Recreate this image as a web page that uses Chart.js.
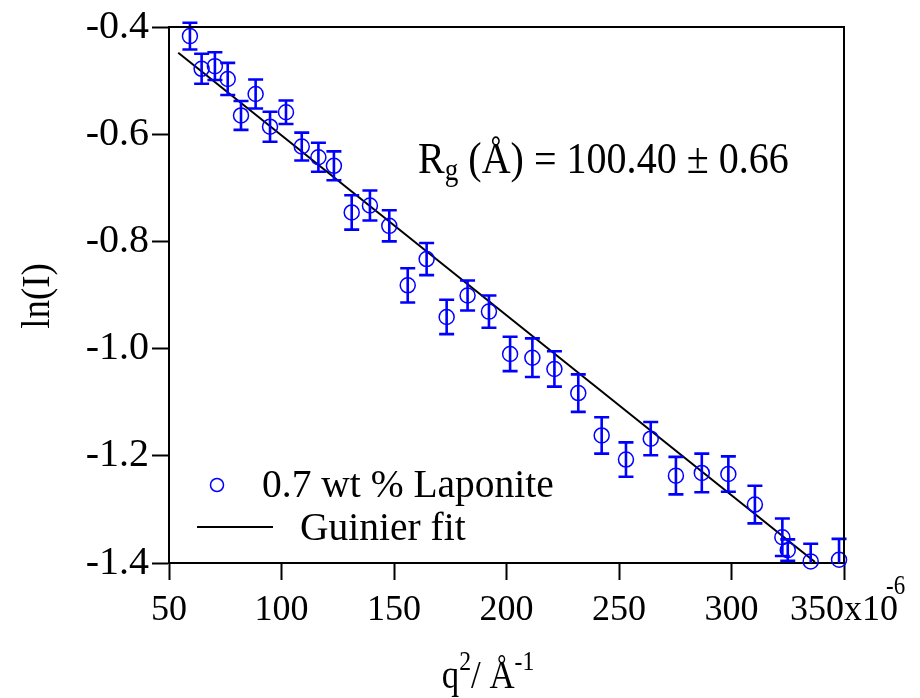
<!DOCTYPE html>
<html>
<head>
<meta charset="utf-8">
<script src="https://cdn.jsdelivr.net/npm/chart.js@4.4.0/dist/chart.umd.min.js"></script>
<style>
  html, body { margin: 0; padding: 0; background: #fff; }
  #wrap { width: 920px; height: 698px; }
</style>
</head>
<body>
<div id="wrap"><canvas id="chart"></canvas></div>
<script>
// q^2 (x10^-6 A^-2) et ln(I)
const qSquared = [59.3, 64.5, 70.4, 76.1, 82.0, 88.5, 94.9, 102.0, 109.0, 116.4, 123.3, 131.2,
  139.3, 147.9, 156.1, 164.5, 173.4, 182.7, 192.2, 201.6, 211.5, 221.3, 231.9, 242.3,
  253.1, 264.1, 275.3, 286.8, 298.6, 310.4, 322.6, 325.0, 335.2, 347.8];
const lnI = [-0.417, -0.478, -0.473, -0.497, -0.565, -0.525, -0.586, -0.559, -0.623, -0.643, -0.659, -0.746,
  -0.733, -0.771, -0.882, -0.833, -0.941, -0.901, -0.931, -1.010, -1.017, -1.038, -1.083, -1.162,
  -1.207, -1.168, -1.237, -1.232, -1.234, -1.291, -1.352, -1.376, -1.397, -1.394];
const lnIErr = [0.025, 0.028, 0.026, 0.030, 0.027, 0.027, 0.028, 0.022, 0.026, 0.027, 0.027, 0.032,
  0.028, 0.029, 0.032, 0.030, 0.032, 0.028, 0.030, 0.032, 0.036, 0.033, 0.035, 0.034,
  0.032, 0.031, 0.035, 0.036, 0.033, 0.035, 0.035, 0.020, 0.033, 0.039];

// droite de Guinier (extrémités)
const fitQ = [54.1, 337.1];
const fitLn = [-0.448, -1.398];

const xTicks = [50, 100, 150, 200, 250, 300, 350];
const yTicks = [-0.4, -0.6, -0.8, -1.0, -1.2, -1.4];

const seriesLabel = '0.7 wt % Laponite';
const fitLabel = 'Guinier fit';

const FONT = '"Liberation Serif", "Times New Roman", serif';
const BLUE = '#0000ff';

Chart.defaults.font.family = FONT;
Chart.defaults.color = '#000';

// dessine un texte avec exposants / indices, sx = compression horizontale
function drawRich(ctx, parts, x, y, size, align, sx) {
  sx = sx || 1;
  let total = 0;
  parts.forEach(p => {
    ctx.font = (p.sup || p.sub ? size * 0.68 : size) + 'px ' + FONT;
    p.w = ctx.measureText(p.t).width;
    total += p.w;
  });
  ctx.save();
  ctx.translate(align === 'center' ? x - total * sx / 2 : x, y);
  ctx.scale(sx, 1);
  let cx = 0;
  parts.forEach(p => {
    ctx.font = (p.sup || p.sub ? size * 0.68 : size) + 'px ' + FONT;
    let dy = 0;
    if (p.sup) dy = -size * 0.45;
    if (p.sub) dy = size * 0.16;
    ctx.fillText(p.t, cx, dy);
    cx += p.w;
  });
  ctx.restore();
}

const errorBars = {
  id: 'errorBars',
  afterDatasetsDraw(chart) {
    const { ctx, scales: { x, y }, chartArea } = chart;
    ctx.save();
    ctx.beginPath();
    ctx.rect(chartArea.left - 10, chartArea.top - 10, chartArea.width + 20, chartArea.height + 10);
    ctx.clip();
    ctx.strokeStyle = BLUE;
    ctx.lineWidth = 2.6;
    qSquared.forEach((q, i) => {
      const px = x.getPixelForValue(q);
      const yTop = y.getPixelForValue(lnI[i] + lnIErr[i]);
      const yBot = y.getPixelForValue(lnI[i] - lnIErr[i]);
      ctx.beginPath();
      ctx.moveTo(px, yTop); ctx.lineTo(px, yBot);
      ctx.moveTo(px - 7.5, yTop); ctx.lineTo(px + 7.5, yTop);
      ctx.moveTo(px - 7.5, yBot); ctx.lineTo(px + 7.5, yBot);
      ctx.stroke();
    });
    ctx.restore();
  }
};

const decorations = {
  id: 'decorations',
  afterDraw(chart) {
    const { ctx, chartArea: a, scales: { x } } = chart;
    ctx.save();
    // cadre haut et droite
    ctx.strokeStyle = '#000';
    ctx.lineWidth = 2;
    ctx.beginPath();
    ctx.moveTo(a.left, a.top); ctx.lineTo(a.right, a.top); ctx.lineTo(a.right, a.bottom);
    ctx.stroke();

    ctx.fillStyle = '#000';
    ctx.textBaseline = 'alphabetic';
    ctx.textAlign = 'left';

    // exposant -6 du dernier label
    drawRich(ctx, [{ t: '-6' }], x.getPixelForValue(350) + 42, 594, 27, 'left', 0.85);

    // titre de l'axe x
    drawRich(ctx, [{ t: 'q' }, { t: '2', sup: true }, { t: '/ Å' }, { t: '-1', sup: true }], 488, 688, 41, 'center', 0.85);

    // titre de l'axe y
    ctx.save();
    ctx.translate(49, 296);
    ctx.rotate(-Math.PI / 2);
    drawRich(ctx, [{ t: 'ln(I)' }], 0, 0, 41, 'center', 0.9);
    ctx.restore();

    // annotation Rg
    drawRich(ctx, [{ t: 'R' }, { t: 'g', sub: true }, { t: ' (Å) = 100.40 ± 0.66' }], 418, 173, 45, 'left', 0.89);

    // légende
    ctx.strokeStyle = BLUE;
    ctx.lineWidth = 1.5;
    ctx.beginPath();
    ctx.arc(217, 485, 6.5, 0, Math.PI * 2);
    ctx.stroke();
    ctx.strokeStyle = '#000';
    ctx.lineWidth = 2;
    ctx.beginPath();
    ctx.moveTo(197, 527); ctx.lineTo(273, 527);
    ctx.stroke();
    drawRich(ctx, [{ t: seriesLabel }], 262, 497, 39.5, 'left', 1);
    drawRich(ctx, [{ t: fitLabel }], 300, 540, 39.5, 'left', 1);
    ctx.restore();
  }
};

const ctx = document.getElementById('chart').getContext('2d');
new Chart(ctx, {
  type: 'scatter',
  data: {
    datasets: [
      {
        label: seriesLabel,
        data: qSquared.map((q, i) => ({ x: q, y: lnI[i] })),
        pointStyle: 'circle',
        pointRadius: 7.5,
        pointBorderWidth: 1.5,
        borderColor: BLUE,
        backgroundColor: 'rgba(0,0,0,0)',
        clip: false
      },
      {
        type: 'line',
        label: fitLabel,
        data: fitQ.map((q, i) => ({ x: q, y: fitLn[i] })),
        borderColor: '#000',
        borderWidth: 2,
        pointRadius: 0,
        fill: false
      }
    ]
  },
  options: {
    responsive: true,
    maintainAspectRatio: false,
    animation: false,
    devicePixelRatio: 1,
    layout: { padding: { left: 0, right: 76, top: 23, bottom: 0 } },
    plugins: { legend: { display: false }, tooltip: { enabled: false } },
    scales: {
      x: {
        type: 'linear',
        min: 50, max: 350,
        afterFit: s => { s.height = 135; },
        afterBuildTicks: s => { s.ticks = xTicks.map(v => ({ value: v })); },
        ticks: {
          font: { size: 36 },
          color: '#000',
          padding: 9,
          maxRotation: 0,
          autoSkip: false,
          callback: v => (v === 350 ? '350x10' : String(v))
        },
        grid: { drawOnChartArea: false, tickLength: 17, tickWidth: 2, tickColor: '#000' },
        border: { color: '#000', width: 2 }
      },
      y: {
        type: 'linear',
        min: -1.4, max: -0.4,
        afterFit: s => { s.width = 169; },
        afterBuildTicks: s => { s.ticks = yTicks.map(v => ({ value: v })); },
        ticks: {
          font: { size: 40 },
          color: '#000',
          padding: 3,
          autoSkip: false,
          callback: v => v.toFixed(1)
        },
        grid: { drawOnChartArea: false, tickLength: 17, tickWidth: 2, tickColor: '#000' },
        border: { color: '#000', width: 2 }
      }
    }
  },
  plugins: [errorBars, decorations]
});
</script>
</body>
</html>
